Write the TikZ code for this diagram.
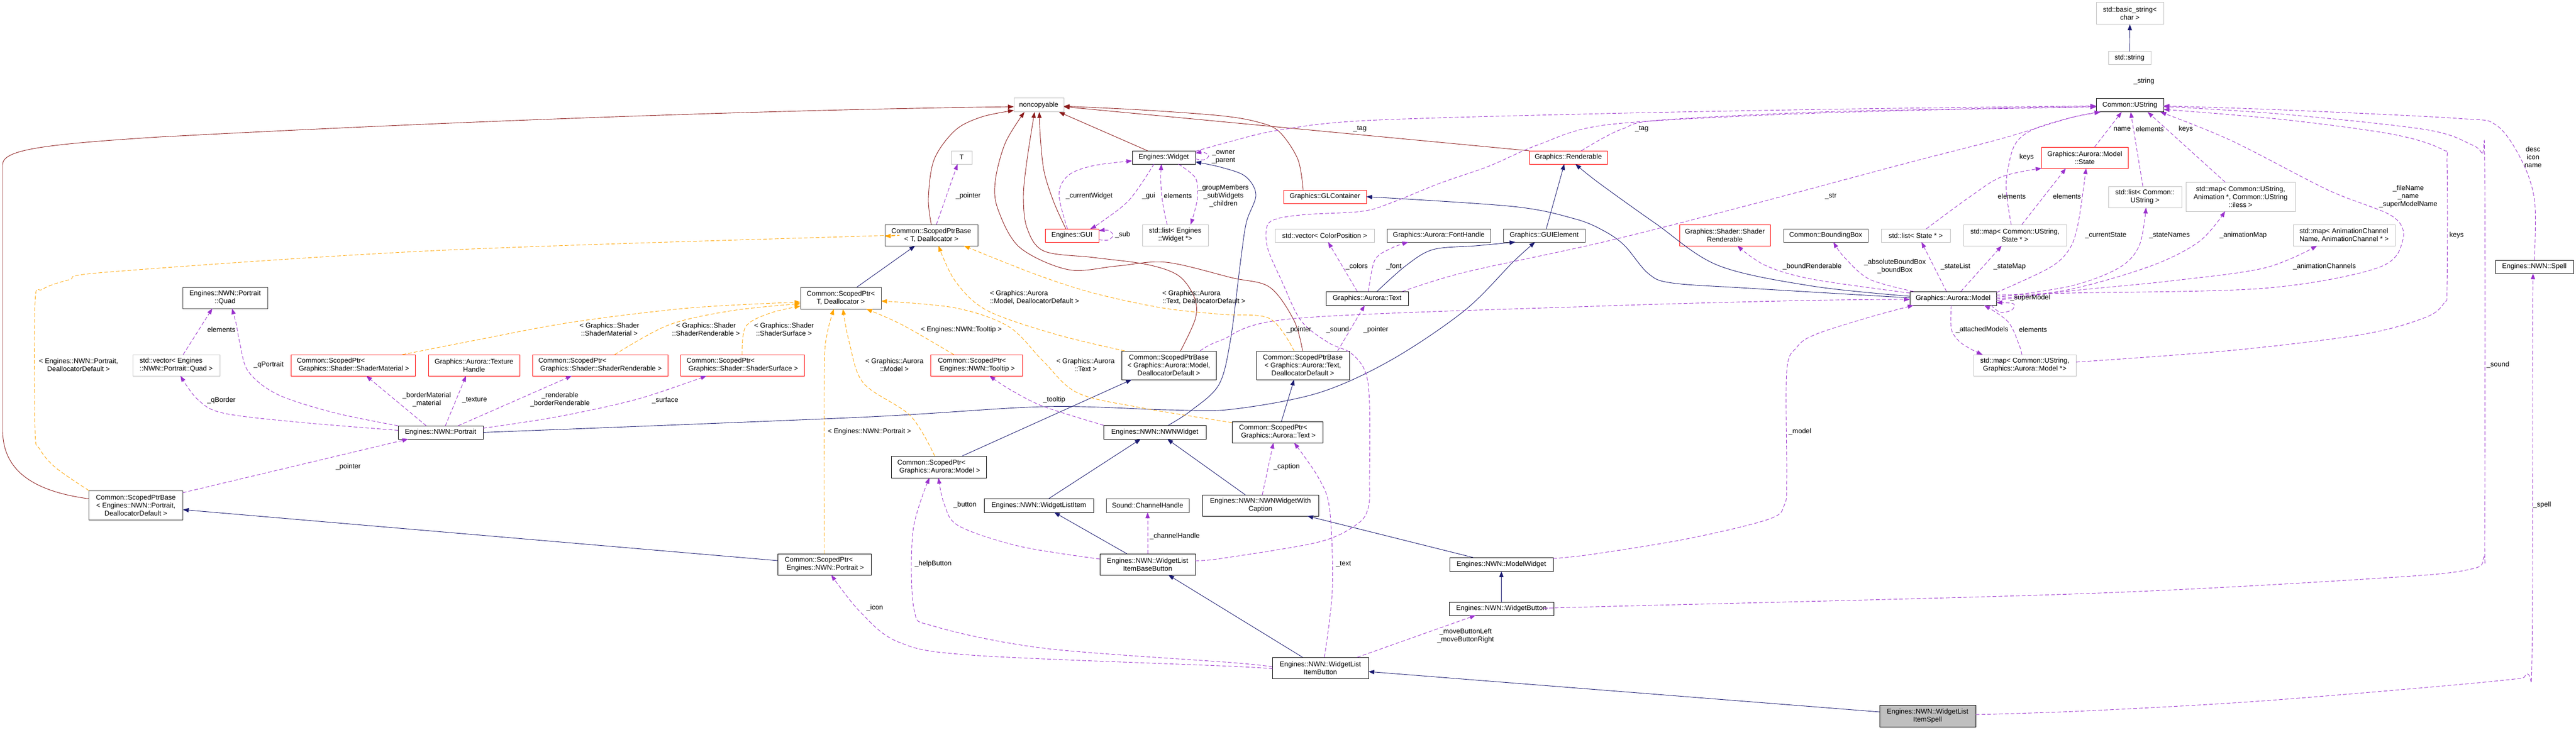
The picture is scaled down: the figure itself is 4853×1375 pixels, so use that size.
\documentclass[tikz,border=0pt]{standalone}
\usepackage{fontspec}
\newfontfamily\dgfont{Liberation Sans}
\usetikzlibrary{arrows.meta}
\newcommand\dgfs{\dgfont\fontsize{13}{15}\selectfont}
\newcommand\ind{\hspace*{3.6pt}}
\definecolor{cinh}{HTML}{191970}
\definecolor{cprot}{HTML}{8B1A1A}
\definecolor{cuse}{HTML}{9A32CD}
\definecolor{ctmpl}{HTML}{FFA500}
\definecolor{cred}{HTML}{FF0000}
\definecolor{cgray}{HTML}{BFBFBF}
\definecolor{cdark}{HTML}{404040}
\begin{document}
\begin{tikzpicture}[x=1pt,y=-1pt,
 bx/.style={rectangle, inner sep=0pt, outer sep=0pt, font=\dgfs, line width=1pt, align=center},
 wh/.style 2 args={minimum width=#1pt, minimum height=#2pt},
 nb/.style={bx, draw=black},
 nd/.style={bx, draw=cdark},
 ng/.style={bx, draw=cgray},
 nr/.style={bx, draw=cred},
 lbl/.style={font=\dgfs, inner sep=0pt, align=center},
 tip/.style={-{Triangle[length=11pt,width=8pt]}},
 einh/.style={draw=cinh, line width=0.9pt, tip},
 eprot/.style={draw=cprot, line width=0.9pt, tip},
 euse/.style={draw=cuse, line width=0.9pt, dash pattern=on 7pt off 4pt, tip},
 etmpl/.style={draw=ctmpl, line width=0.9pt, dash pattern=on 7pt off 4pt, tip}
]
\fill[white] (0,0) rectangle (4853,1375);
\useasboundingbox (0,0) rectangle (4853,1375);

% ---------- nodes ----------
\node[nd, wh={160}{40}] (quad) at (424,561) {Engines::NWN::Portrait\\::Quad};
\node[ng, wh={164}{40}, align=left] (vecquad) at (332,688) {std::vector< Engines\\::NWN::Portrait::Quad >};
\node[nr, wh={234}{40}, align=left] (spmat) at (665,688) {Common::ScopedPtr<\\\ind Graphics::Shader::ShaderMaterial >};
\node[nb, wh={160}{25}] (portrait) at (830,814.5) {Engines::NWN::Portrait};
\node[nd, wh={177}{55}] (spbport) at (256,951.5) {Common::ScopedPtrBase\\< Engines::NWN::Portrait,\\DeallocatorDefault >};
\node[nr, wh={172}{40}] (texh) at (893,688) {Graphics::Aurora::Texture\\Handle};
\node[nr, wh={255}{40}, align=left] (sprend) at (1130.5,688) {Common::ScopedPtr<\\\ind Graphics::Shader::ShaderRenderable >};
\node[nr, wh={233}{40}, align=left] (spsurf) at (1398.5,688) {Common::ScopedPtr<\\\ind Graphics::Shader::ShaderSurface >};
\node[nd, wh={152}{41}] (spt) at (1584,561.5) {Common::ScopedPtr<\\T, Deallocator >};
\node[nb, wh={176}{40}, align=left] (spport) at (1553,1063) {Common::ScopedPtr<\\\ind Engines::NWN::Portrait >};
\node[ng, wh={94}{26}] (noncopy) at (1957,198) {noncopyable};
\node[ng, wh={39}{25}] (tnode) at (1811.5,296.5) {T};
\node[nd, wh={175}{40}] (spbt) at (1754.5,443) {Common::ScopedPtrBase\\< T, Deallocator >};
\node[nb, wh={119}{25}] (widget) at (2192.5,296.5) {Engines::Widget};
\node[nr, wh={101}{25}] (gui) at (2019.5,443.5) {Engines::GUI};
\node[ng, wh={124}{40}] (listwidget) at (2214,443) {std::list< Engines\\::Widget *>};
\node[nr, wh={173}{40}, align=left] (sptooltip) at (1839.5,688) {Common::ScopedPtr<\\\ind Engines::NWN::Tooltip >};
\node[nb, wh={178}{54}] (spbmodel) at (2202,688) {Common::ScopedPtrBase\\< Graphics::Aurora::Model,\\DeallocatorDefault >};
\node[nb, wh={179}{41}, align=left] (spmodel) at (1768.5,879.5) {Common::ScopedPtr<\\\ind Graphics::Aurora::Model >};
\node[nb, wh={193}{26}] (nwnwidget) at (2175.5,814) {Engines::NWN::NWNWidget};
\node[nb, wh={206}{26}] (wlitem) at (1957,952) {Engines::NWN::WidgetListItem};
\node[nd, wh={156}{26}] (channel) at (2162,952) {Sound::ChannelHandle};
\node[nb, wh={180}{40}] (wlibase) at (2162,1063) {Engines::NWN::WidgetList\\ItemBaseButton};
\node[nb, wh={219}{40}] (nwncap) at (2374.5,952) {Engines::NWN::NWNWidgetWith\\Caption};
\node[nr, wh={156}{25}] (glcont) at (2496,370.5) {Graphics::GLContainer};
\node[nr, wh={147}{25}] (rend) at (2954.5,296.5) {Graphics::Renderable};
\node[ng, wh={187}{25}] (veccolor) at (2495.5,443.5) {std::vector< ColorPosition >};
\node[nd, wh={195}{25}] (fonth) at (2710.5,443.5) {Graphics::Aurora::FontHandle};
\node[nd, wh={154}{25}] (guielem) at (2909,443.5) {Graphics::GUIElement};
\node[nb, wh={155}{26}] (text) at (2575.5,562) {Graphics::Aurora::Text};
\node[nb, wh={175}{54}] (spbtext) at (2454.5,688) {Common::ScopedPtrBase\\< Graphics::Aurora::Text,\\DeallocatorDefault >};
\node[nb, wh={171}{40}, align=left] (sptext) at (2406.5,814) {Common::ScopedPtr<\\\ind Graphics::Aurora::Text >};
\node[nb, wh={195}{26}] (modelwidget) at (2828.5,1063) {Engines::NWN::ModelWidget};
\node[nb, wh={197}{25}] (wbutton) at (2828.5,1146.5) {Engines::NWN::WidgetButton};
\node[nb, wh={181}{40}] (wlibutton) at (2487.5,1258) {Engines::NWN::WidgetList\\ItemButton};
\node[nb, wh={163}{26}] (model) at (3679.5,562) {Graphics::Aurora::Model};
\node[nr, wh={171}{40}] (shrend) at (3249.5,443) {Graphics::Shader::Shader\\Renderable};
\node[nd, wh={159}{25}] (bbox) at (3439.5,443.5) {Common::BoundingBox};
\node[ng, wh={130}{25}] (liststate) at (3609,443.5) {std::list< State * >};
\node[ng, wh={194}{40}] (mapstate) at (3796,443) {std::map< Common::UString,\\State * >};
\node[nr, wh={163}{40}] (state) at (3927.5,297) {Graphics::Aurora::Model\\::State};
\node[ng, wh={127}{41}] (bstring) at (4012.5,25.5) {std::basic\_string<\\char >};
\node[ng, wh={80}{25}] (sstring) at (4012,109.5) {std::string};
\node[nb, wh={127}{25}] (ustring) at (4012.5,198.5) {Common::UString};
\node[ng, wh={138}{40}] (listustr) at (4041,371) {std::list< Common::\\UString >};
\node[ng, wh={206}{55}] (mapanim) at (4221,370.5) {std::map< Common::UString,\\Animation *, Common::UString\\::iless >};
\node[ng, wh={192}{40}, align=left] (mapchan) at (4416,443) {std::map< AnimationChannel\\Name, AnimationChannel * >};
\node[nb, wh={147}{25}] (spell) at (4774.5,502.5) {Engines::NWN::Spell};
\node[ng, wh={193}{40}] (mapmodel) at (3814.5,688) {std::map< Common::UString,\\Graphics::Aurora::Model *>};
\node[bx, draw=black, fill=cgray, wh={181}{41}] (wlispell) at (3631.5,1348.5) {Engines::NWN::WidgetList\\ItemSpell};

% ---------- protected inheritance (dark red) ----------
\draw[eprot] ([yshift=12pt]spbport.west) .. controls (60,925) and (5,885) .. (5,810) -- (5,310) .. controls (5,282) and (80,272) .. (300,258) .. controls (900,226) and (1500,206) .. ([yshift=-3pt]noncopy.west);
\draw[eprot] plot[smooth,tension=0.55] coordinates {(spbt.north) (1749,373) (1760,300) (1800,245) (1850,220) ([yshift=3pt]noncopy.south west)};
\draw[eprot] plot[smooth,tension=0.55] coordinates {([xshift=-11.5pt]gui.north) (1985,380) (1967,323) (1960,260) ([xshift=1pt]noncopy.south)};
\draw[eprot] plot[smooth,tension=0.55] coordinates {([xshift=22pt]spbmodel.north) (2252,600) (2250,560) (2220,519) (2160,498) (2060,485) (1967,473) (1935,430) (1928,370) (1935,300) ([xshift=-8pt]noncopy.south)};
\draw[eprot] plot[smooth,tension=0.55] coordinates {([xshift=-0.5pt]spbtext.north) (2438,604) (2392,541) (2320,523) (2197,494) (2105,501) (2013,508) (1921,466) (1880,394) (1875,341) (1894,269) ([xshift=-27pt]noncopy.south)};
\draw[eprot] ([xshift=-30.5pt]widget.north) -- ([xshift=38pt]noncopy.south);
\draw[eprot] plot[smooth,tension=0.55] coordinates {([xshift=-41pt]glcont.north) (2445,300) (2410,248) (2370,230) (2300,218) (2150,207) ([yshift=-2pt]noncopy.east)};
\draw[eprot] (rend.north west) -- ([yshift=-3pt]noncopy.east);

% ---------- public inheritance (navy) ----------
\draw[einh] (sstring.north) -- (bstring.south);
\draw[einh] ([yshift=7pt]spport.west) -- ([yshift=-8.5pt]spbport.east);
\draw[einh] ([xshift=30pt]spt.north) -- ([xshift=-30.5pt]spbt.south);
\draw[einh] ([xshift=44pt]spmodel.north) -- ([xshift=-70pt]spbmodel.south);
\draw[einh] ([xshift=7.5pt]sptext.north) -- ([xshift=-16.5pt]spbtext.south);
\draw[einh] plot[smooth,tension=0.55] coordinates {([xshift=25.5pt]nwnwidget.north) (2243,774) (2296,725) (2318,641) (2337,493) (2348,419) (2366,367) (2346,332) (2300,315) ([yshift=-8.5pt]widget.east)};
\draw[einh] ([xshift=19pt]wlitem.north) -- ([xshift=-26.5pt]nwnwidget.south);
\draw[einh] ([xshift=-28.5pt]nwncap.north) -- ([xshift=23.5pt]nwnwidget.south);
\draw[einh] ([xshift=-39pt]wlibase.north) -- ([xshift=29pt]wlitem.south);
\draw[einh] ([xshift=-53.5pt]modelwidget.north) -- ([xshift=88.5pt]nwncap.south);
\draw[einh] (wbutton.north) -- (modelwidget.south);
\draw[einh] ([xshift=-33.5pt]wlibutton.north) -- ([xshift=39pt]wlibase.south);
\draw[einh] ([yshift=7.5pt]wlispell.west) -- ([yshift=-7pt]wlibutton.east);
\draw[einh] plot[smooth,tension=0.55] coordinates {([xshift=18.5pt]text.north) (2649,500) (2700,470) (2780,463) ([xshift=-54pt]guielem.south)};
\draw[einh] ([xshift=4pt]guielem.north) -- ([xshift=-7.5pt]rend.south);
\draw[einh] plot[smooth,tension=0.55] coordinates {([yshift=4pt]model.west) (3415,539) (3237,500) (3119,421) (3010,343) ([xshift=13.5pt]rend.south)};
\draw[einh] plot[smooth,tension=0.55] coordinates {([yshift=1pt]model.west) (3296,543) (3150,533) (3105,515) (3060,462) (3020,434) (2966,412) (2851,389) (glcont.east)};
\draw[einh] plot[smooth,tension=0.55] coordinates {(portrait.east) (1620,786) (1967,766) (2200,772) (2320,771) (2484,740) (2621,678) (2759,585) (2851,493) ([xshift=-17pt]guielem.south)};

% ---------- usage (purple dashed) ----------
\draw[euse] ([xshift=13pt]vecquad.north) -- ([xshift=-24pt]quad.south);
\draw[euse] plot[smooth,tension=0.55] coordinates {(portrait.north west) (628,777) (523,743) (468,700) (452,647) (445,610) ([xshift=13pt]quad.south)};
\draw[euse] plot[smooth,tension=0.55] coordinates {([yshift=4pt]portrait.west) (560,795) (420,778) (372,752) ([xshift=8pt]vecquad.south)};
\draw[euse] ([yshift=-4pt]spbport.north east) -- ([xshift=-61pt]portrait.south);
\draw[euse] ([xshift=-27pt]portrait.north) -- ([xshift=25pt]spmat.south);
\draw[euse] ([xshift=9pt]portrait.north) -- ([xshift=-15pt]texh.south);
\draw[euse] plot[smooth,tension=0.55] coordinates {([xshift=33pt]portrait.north) (970,755) ([xshift=-53.5pt]sprend.south)};
\draw[euse] plot[smooth,tension=0.55] coordinates {([yshift=8pt]portrait.east) (1050,785) (1200,752) ([xshift=-67.5pt]spsurf.south)};
\draw[euse] ([xshift=9.5pt]spbt.north) -- ([xshift=-7.5pt]tnode.south);
\draw[euse] plot[smooth,tension=0.55] coordinates {([xshift=-8.5pt]gui.north) (1995,366) (2013,330) (2060,312) ([yshift=-6.5pt]widget.west)};
\draw[euse] plot[smooth,tension=0.55] coordinates {([xshift=-18.5pt]widget.south) (2128,376) (2075,418) ([xshift=34.5pt]gui.north)};
\draw[euse] plot[smooth,tension=0.55] coordinates {([yshift=-8pt]gui.east) (2088,452) (2097,443) (2088,434) ([yshift=9pt]gui.east)};
\draw[euse] ([xshift=-15pt]listwidget.north) .. controls (2190,390) and (2185,350) .. ([xshift=-4.5pt]widget.south);
\draw[euse] plot[smooth,tension=0.55] coordinates {([xshift=27.5pt]widget.south) (2252,335) (2256,370) (2250,400) ([xshift=29pt]listwidget.north)};
\draw[euse] plot[smooth,tension=0.55] coordinates {([yshift=-3pt]widget.east) (2268,301) (2277,294) (2268,287) ([yshift=8pt]widget.east)};
\draw[euse] plot[smooth,tension=0.55] coordinates {([yshift=-1pt]widget.north east) (2320,266) (2410,245) (2575,227) (3020,214) (3500,205) ([yshift=-1pt]ustring.west)};
\draw[euse] plot[smooth,tension=0.55] coordinates {([xshift=24.5pt]rend.north) (3020,260) (3059,242) (3119,227) (3400,212) (3700,205) ([yshift=-2pt]ustring.west)};
\draw[euse] plot[smooth,tension=0.55] coordinates {([yshift=7pt]wlibase.east) (2300,1052) (2484,1021) (2557,987) (2578,955) (2580,900) (2580,760) (2572,700) (2545,665) (2502,645) (2451,604) (2415,530) (2388,467) (2387,426) (2406,412) (2461,404) (2566,398) (2621,382) (2713,345) (2805,313) (2897,273) (3020,236) (3300,218) (3600,208) ([yshift=-3pt]ustring.west)};
\draw[euse] plot[smooth,tension=0.55] coordinates {([xshift=-11pt]text.north east) (2759,513) (3020,456) (3300,385) (3593,307) (3771,261) (3900,222) ([xshift=8pt]ustring.south west)};
\draw[euse] plot[smooth,tension=0.55] coordinates {([xshift=-7pt]mapstate.north) (3782,380) (3780,337) (3795,274) (3830,244) (3900,222) ([xshift=8pt]ustring.south west)};
\draw[euse] ([xshift=18.5pt]state.north) -- ([xshift=-15.5pt]ustring.south);
\draw[euse] ([xshift=-4pt]listustr.north) -- ([xshift=1.5pt]ustring.south);
\draw[euse] ([xshift=-29pt]mapanim.north) -- ([xshift=33.5pt]ustring.south);
\draw[euse] plot[smooth,tension=0.55] coordinates {([yshift=6pt]model.east) (3900,552) (4265,543) (4478,505) (4526,455) (4508,408) (4386,358) (4204,265) ([xshift=-6pt]ustring.south east)};
\draw[euse] plot[smooth,tension=0.55] coordinates {([yshift=2pt]model.east) (3900,539) (3991,505) (4030,463) ([xshift=2pt]listustr.south)};
\draw[euse] plot[smooth,tension=0.55] coordinates {([yshift=-1pt]model.east) (3900,545) (4052,501) (4143,455) ([xshift=-29pt]mapanim.south)};
\draw[euse] plot[smooth,tension=0.55] coordinates {([yshift=-4pt]model.east) (3900,548) (4082,530) (4265,505) ([xshift=-51pt]mapchan.south)};
\draw[euse] plot[smooth,tension=0.55] coordinates {([yshift=-2pt]model.north east) (3860,505) (3898,470) (3915,421) ([xshift=2.5pt]state.south)};
\draw[euse] plot[smooth,tension=0.55] coordinates {([yshift=10pt]model.west) (3415,526) (3326,500) ([xshift=23.5pt]shrend.south)};
\draw[euse] plot[smooth,tension=0.55] coordinates {([xshift=-74.5pt]model.north) (3522,526) (3474,484) ([xshift=14.5pt]bbox.south)};
\draw[euse] ([xshift=-12.5pt]model.north) -- ([xshift=11pt]liststate.south);
\draw[euse] ([xshift=14.5pt]model.north) -- ([xshift=-25pt]mapstate.south);
\draw[euse] plot[smooth,tension=0.55] coordinates {([xshift=20pt]liststate.north) (3712,370) (3771,333) (state.south west)};
\draw[euse] ([xshift=13pt]mapstate.north) -- ([xshift=-35.5pt]state.south);
\draw[euse] plot[smooth,tension=0.55] coordinates {([xshift=-10pt]model.south east) (3768,588) (3790,584) (3793,572) ([yshift=-8pt]model.east)};
\draw[euse] plot[smooth,tension=0.55] coordinates {([xshift=-3.5pt]model.south) (3676,619) (3690,642) (3712,657) ([xshift=-79.5pt]mapmodel.north)};
\draw[euse] plot[smooth,tension=0.55] coordinates {([xshift=-5.5pt]mapmodel.north) (3804,650) (3783,606) ([xshift=58.5pt]model.south)};
\draw[euse] plot[smooth,tension=0.55] coordinates {([xshift=59pt]spbmodel.north) (2300,641) (2438,600) (3000,577) (3400,566) ([yshift=-2pt]model.west)};
\draw[euse] plot[smooth,tension=0.55] coordinates {([yshift=11pt]modelwidget.east) (3000,1044) (3178,1015) (3332,978) (3362,950) (3366,900) (3366,700) (3385,654) (3420,630) (3520,598) ([xshift=-74.5pt]model.south)};
\draw[euse] plot[smooth,tension=0.55] coordinates {([yshift=1.5pt]wbutton.east) (3000,1143) (3930,1118) (4500,1088) (4655,1072) (4679,1050) (4681,1000) (4681,320) (4676,290) (4655,272) (4569,244) (4300,215) ([yshift=-2pt]ustring.east)};
\draw[euse] plot[smooth,tension=0.55] coordinates {([yshift=6pt]mapmodel.east) (4204,660) (4450,630) (4569,598) (4605,570) (4610,540) (4610,310) (4602,282) (4508,253) (4300,225) ([yshift=-7.5pt]ustring.east)};
\draw[euse] plot[smooth,tension=0.55] coordinates {(spell.north) (4775,379) (4751,303) (4703,236) (4630,223) (4300,207) ([yshift=-1pt]ustring.east)};
\draw[euse] plot[smooth,tension=0.55] coordinates {([yshift=2.5pt]wlispell.east) (3930,1339) (4265,1320) (4700,1283) (4760,1270) (4770,1240) (4771,700) ([xshift=-2.5pt]spell.south)};
\draw[euse] ([xshift=65.5pt]spbtext.north) -- ([xshift=-4.5pt]text.south);
\draw[euse] ([xshift=-18.5pt]text.north) -- ([xshift=6.5pt]veccolor.south);
\draw[euse] plot[smooth,tension=0.55] coordinates {([xshift=2.5pt]text.north) (2590,490) (2620,468) ([xshift=-57.5pt]fonth.south)};
\draw[euse] plot[smooth,tension=0.55] coordinates {(nwnwidget.north west) (1967,766) (1905,735) ([xshift=24.5pt]sptooltip.south)};
\draw[euse] ([xshift=3.5pt]nwncap.north) -- ([xshift=-7.5pt]sptext.south);
\draw[euse] plot[smooth,tension=0.55] coordinates {([xshift=7.5pt]wlibutton.north) (2510,1110) (2505,960) (2484,900) ([xshift=31.5pt]sptext.south)};
\draw[euse] ([xshift=69.5pt]wlibutton.north) -- ([xshift=-48.5pt]wbutton.south);
\draw[euse] (wlibase.north) -- (channel.south);
\draw[euse] plot[smooth,tension=0.55] coordinates {([yshift=10pt]wlibase.west) (1921,1029) (1807,991) (1779,950) ([xshift=-0.5pt]spmodel.south)};
\draw[euse] plot[smooth,tension=0.55] coordinates {([yshift=2pt]wlibutton.west) (2320,1248) (1967,1221) (1761,1180) (1722,1148) (1720,1000) ([xshift=-17.5pt]spmodel.south)};
\draw[euse] plot[smooth,tension=0.55] coordinates {([yshift=-2pt]wlibutton.west) (2320,1255) (1830,1234) (1692,1209) (1620,1152) ([xshift=13pt]spport.south)};

% ---------- template instances (orange dashed) ----------
\draw[etmpl] plot[smooth,tension=0.55] coordinates {(spbport.north west) (105,881) (75,846) (66,810) (66,570) (80,545) (130,527) (209,512) (820,472) (1620,445) ([yshift=-2pt]spbt.west)};
\draw[etmpl] plot[smooth,tension=0.55] coordinates {([xshift=93pt]spmat.north) (900,640) (1077,607) (1300,580) ([yshift=-7.5pt]spt.west)};
\draw[etmpl] plot[smooth,tension=0.55] coordinates {([xshift=27.5pt]sprend.north) (1260,612) (1380,585) ([yshift=-10.5pt]spt.west)};
\draw[etmpl] plot[smooth,tension=0.55] coordinates {([xshift=-0.5pt]spsurf.north) (1405,615) (1450,590) ([yshift=-15pt]spt.west)};
\draw[etmpl] plot[smooth,tension=0.55] coordinates {(spport.north) (1553,700) (1558,630) ([xshift=-13pt]spt.south)};
\draw[etmpl] plot[smooth,tension=0.55] coordinates {([xshift=-7.5pt]spmodel.north) (1715,783) (1627,722) (1600,645) ([xshift=4pt]spt.south)};
\draw[etmpl] plot[smooth,tension=0.55] coordinates {([xshift=-42.5pt]sptooltip.north) (1700,612) ([xshift=48pt]spt.south)};
\draw[etmpl] plot[smooth,tension=0.55] coordinates {([yshift=18pt]sptext.west) (2150,768) (2030,740) (1965,680) (1900,615) (1800,580) ([yshift=-5.5pt]spt.east)};
\draw[etmpl] plot[smooth,tension=0.55] coordinates {([xshift=-83pt]spbmodel.north) (1990,630) (1860,585) (1800,530) ([xshift=13.5pt]spbt.south)};
\draw[etmpl] plot[smooth,tension=0.55] coordinates {([xshift=-16.5pt]spbtext.north) (2392,600) (2300,592) (2190,580) (2060,552) (1949,516) ([xshift=61.5pt]spbt.south)};

% ---------- labels ----------
\node[lbl] (l1) at (148,687) {< Engines::NWN::Portrait,\\DeallocatorDefault >};
\node[lbl] (l2) at (417,621) {elements};
\node[lbl] (l3) at (506,687) {\_qPortrait};
\node[lbl] (l4) at (417,754) {\_qBorder};
\node[lbl] (l5) at (656,879) {\_pointer};
\node[lbl] (l6) at (804,753) {\_borderMaterial\\\_material};
\node[lbl] (l7) at (894,754) {\_texture};
\node[lbl] (l8) at (1055,753) {\_renderable\\\_borderRenderable};
\node[lbl] (l9) at (1253,754) {\_surface};
\node[lbl] (l10) at (1148,620) {< Graphics::Shader\\::ShaderMaterial >};
\node[lbl] (l11) at (1330,620) {< Graphics::Shader\\::ShaderRenderable >};
\node[lbl] (l12) at (1477,620) {< Graphics::Shader\\::ShaderSurface >};
\node[lbl] (l13) at (1638,813) {< Engines::NWN::Portrait >};
\node[lbl] (l14) at (1685,687) {< Graphics::Aurora\\::Model >};
\node[lbl] (l15) at (1824,369) {\_pointer};
\node[lbl] (l16) at (2052,369) {\_currentWidget};
\node[lbl] (l17) at (2164,369) {\_gui};
\node[lbl] (l18) at (2219,369) {elements};
\node[lbl] (l19) at (2305,369) {\_groupMembers\\\_subWidgets\\\_children};
\node[lbl] (l20) at (2305,296) {\_owner\\\_parent};
\node[lbl] (l21) at (2115,442) {\_sub};
\node[lbl, align=left] (l22) at (1949,560) {< Graphics::Aurora\\::Model, DeallocatorDefault >};
\node[lbl, align=left] (l23) at (2268,560) {< Graphics::Aurora\\::Text, DeallocatorDefault >};
\node[lbl] (l24) at (1811,621) {< Engines::NWN::Tooltip >};
\node[lbl] (l25) at (2045,687) {< Graphics::Aurora\\::Text >};
\node[lbl] (l26) at (1986,753) {\_tooltip};
\node[lbl] (l27) at (1818,951) {\_button};
\node[lbl] (l28) at (2213,1010) {\_channelHandle};
\node[lbl] (l29) at (1758,1062) {\_helpButton};
\node[lbl] (l30) at (1648,1145) {\_icon};
\node[lbl] (l31) at (2562,243) {\_tag};
\node[lbl] (l32) at (2556,502) {\_colors};
\node[lbl] (l33) at (2626,502) {\_font};
\node[lbl] (l34) at (2447,621) {\_pointer};
\node[lbl] (l35) at (2520,621) {\_sound};
\node[lbl] (l36) at (2592,621) {\_pointer};
\node[lbl] (l37) at (2424,879) {\_caption};
\node[lbl] (l38) at (2531,1063) {\_text};
\node[lbl] (l39) at (2761,1198) {\_moveButtonLeft\\\_moveButtonRight};
\node[lbl] (l40) at (3093,243) {\_tag};
\node[lbl] (l41) at (3449,370) {\_str};
\node[lbl] (l42) at (3818,296) {keys};
\node[lbl] (l43) at (3790,370) {elements};
\node[lbl] (l44) at (3894,370) {elements};
\node[lbl] (l45) at (3414,502) {\_boundRenderable};
\node[lbl] (l46) at (3570,502) {\_absoluteBoundBox\\\_boundBox};
\node[lbl] (l47) at (3684,502) {\_stateList};
\node[lbl] (l48) at (3786,502) {\_stateMap};
\node[lbl] (l49) at (3825,561) {\_superModel};
\node[lbl] (l50) at (3734,621) {\_attachedModels};
\node[lbl] (l51) at (3830,621) {elements};
\node[lbl] (l52) at (4039,153) {\_string};
\node[lbl] (l53) at (3998,243) {name};
\node[lbl] (l54) at (4050,243) {elements};
\node[lbl] (l55) at (4118,243) {keys};
\node[lbl] (l56) at (3967,443) {\_currentState};
\node[lbl] (l57) at (4087,443) {\_stateNames};
\node[lbl] (l58) at (4226,443) {\_animationMap};
\node[lbl] (l59) at (4379,502) {\_animationChannels};
\node[lbl] (l60) at (4537,370) {\_fileName\\\_name\\\_superModelName};
\node[lbl] (l61) at (4628,443) {keys};
\node[lbl] (l62) at (4772,296) {desc\\icon\\name};
\node[lbl] (l63) at (3391,813) {\_model};
\node[lbl] (l64) at (4706,687) {\_sound};
\node[lbl] (l65) at (4789,951) {\_spell};
\end{tikzpicture}
\end{document}
